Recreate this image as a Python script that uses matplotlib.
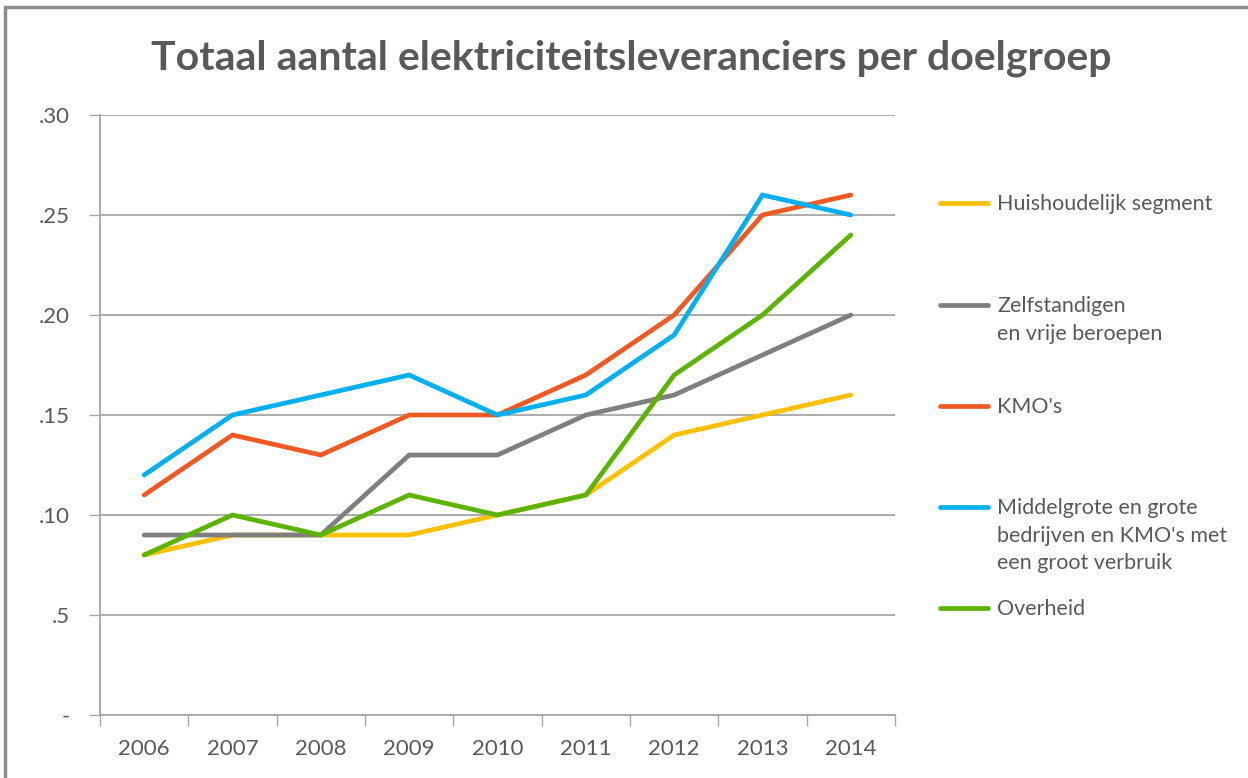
import matplotlib.pyplot as plt
from matplotlib.lines import Line2D
from matplotlib.patches import Rectangle

plt.rcParams['font.family'] = ['Lato', 'DejaVu Sans']

years = ["2006", "2007", "2008", "2009", "2010", "2011", "2012", "2013", "2014"]
huishoudelijk = [8, 9, 9, 9, 10, 11, 14, 15, 16]
zelfstandigen = [9, 9, 9, 13, 13, 15, 16, 18, 20]
kmo = [11, 14, 13, 15, 15, 17, 20, 25, 26]
middelgrote = [12, 15, 16, 17, 15, 16, 19, 26, 25]
overheid = [8, 10, 9, 11, 10, 11, 17, 20, 24]

y_ticks = [0, 5, 10, 15, 20, 25, 30]
y_labels = ["-", ".5", ".10", ".15", ".20", ".25", ".30"]

series = [
    ("Huishoudelijk segment", huishoudelijk, "#FFC000"),
    ("Zelfstandigen\nen vrije beroepen", zelfstandigen, "#7F7F7F"),
    ("KMO's", kmo, "#F05A22"),
    ("Middelgrote en grote\nbedrijven en KMO's met\neen groot verbruik", middelgrote, "#00B0F0"),
    ("Overheid", overheid, "#5BB400"),
]

W, H = 1248, 778
fig = plt.figure(figsize=(W / 100, H / 100), dpi=100)
ax = fig.add_axes([100 / W, 1 - 715 / H, 795 / W, 600 / H])

x = list(range(len(years)))
for label, vals, col in series:
    ax.plot(x, vals, color=col, lw=3.4, solid_capstyle="round", solid_joinstyle="miter")

ax.set_xlim(-0.5, 8.5)
ax.set_ylim(0, 30)
ax.set_yticks(y_ticks)
ax.set_yticklabels(y_labels, fontsize=16, color="#595959")
ax.set_xticks(x)
ax.set_xticklabels(years, fontsize=16, color="#595959")
ax.tick_params(axis="x", length=0, pad=17)
ax.set_xticks([i - 0.5 for i in range(len(years) + 1)], minor=True)
ax.tick_params(axis="x", which="minor", length=8, color="#A6A6A6", width=1)
ax.tick_params(axis="y", length=8, color="#A6A6A6", width=1, pad=14)
ax.grid(axis="y", color="#A6A6A6", lw=1.3)
ax.set_axisbelow(True)
for s in ["top", "right"]:
    ax.spines[s].set_visible(False)
for s in ["left", "bottom"]:
    ax.spines[s].set_color("#A6A6A6")
    ax.spines[s].set_linewidth(1.3)

fig.text(631 / W, 1 - 58 / H, "Totaal aantal elektriciteitsleveranciers per doelgroep",
         ha="center", va="center", fontsize=29.5, fontweight="bold", color="#595959")

# legend drawn by hand
leg_y = [203, 305, 406, 507, 608]
for (label, vals, col), yy in zip(series, leg_y):
    fy = 1 - yy / H
    fig.add_artist(Line2D([940 / W, 988 / W], [fy, fy], color=col, lw=3.4, solid_capstyle="round"))
    fig.text(997 / W, 1 - (yy - 9) / H, label, ha="left", va="top", fontsize=15.5,
             color="#595959", linespacing=1.47)

# outer chart border
fig.add_artist(Rectangle((5 / W, -0.05), 1.1, 1 - 7 / H + 0.05, fill=False,
                         edgecolor="#8C8C8C", lw=2.5, transform=fig.transFigure))

fig.savefig("out.png", dpi=100)
